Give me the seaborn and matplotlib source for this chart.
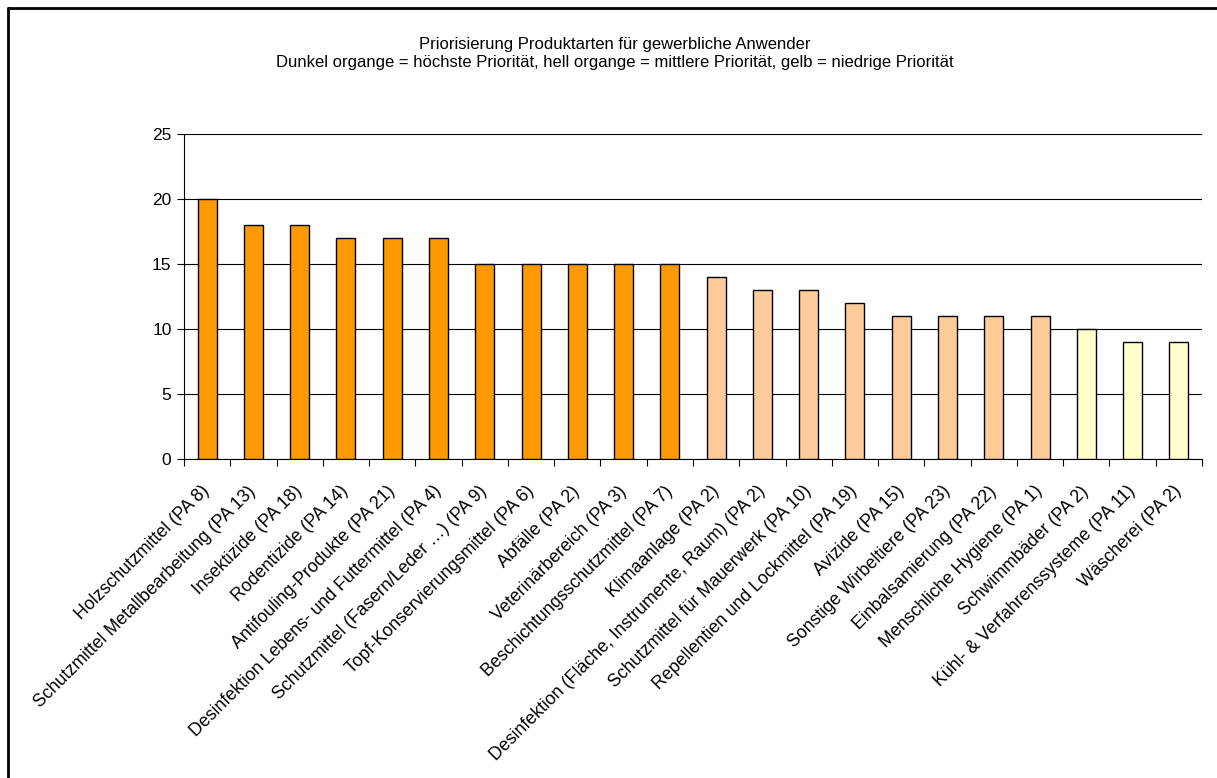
import matplotlib
matplotlib.use("Agg")
import matplotlib.pyplot as plt
import matplotlib.transforms as mtransforms
import seaborn as sns
import pandas as pd
from matplotlib.lines import Line2D

categories = [
    "Holzschutzmittel (PA 8)",
    "Schutzmittel Metallbearbeitung (PA 13)",
    "Insektizide (PA 18)",
    "Rodentizide (PA 14)",
    "Antifouling-Produkte (PA 21)",
    "Desinfektion Lebens- und Futtermittel (PA 4)",
    "Schutzmittel (Fasern/Leder …) (PA 9)",
    "Topf-Konservierungsmittel (PA 6)",
    "Abfälle (PA 2)",
    "Veterinärbereich (PA 3)",
    "Beschichtungsschutzmittel (PA 7)",
    "Klimaanlage (PA 2)",
    "Desinfektion (Fläche, Instrumente, Raum) (PA 2)",
    "Schutzmittel für Mauerwerk (PA 10)",
    "Repellentien und Lockmittel (PA 19)",
    "Avizide (PA 15)",
    "Sonstige Wirbeltiere (PA 23)",
    "Einbalsamierung (PA 22)",
    "Menschliche Hygiene (PA 1)",
    "Schwimmbäder (PA 2)",
    "Kühl- & Verfahrenssysteme (PA 11)",
    "Wäscherei (PA 2)",
]
values = [20, 18, 18, 17, 17, 17, 15, 15, 15, 15, 15, 14, 13, 13, 12, 11, 11, 11, 11, 10, 9, 9]
priority = ["hoch"] * 11 + ["mittel"] * 8 + ["niedrig"] * 3
priority_colors = {"hoch": "#FF9900", "mittel": "#FFCC99", "niedrig": "#FFFFCC"}

title_lines = [
    "Priorisierung Produktarten für gewerbliche Anwender",
    "Dunkel organge = höchste Priorität, hell organge = mittlere Priorität, gelb = niedrige Priorität",
]
y_ticks = [0, 5, 10, 15, 20, 25]

df = pd.DataFrame({"Produktart": categories, "Wert": values, "Priorität": priority})

sns.set_theme(style="white")
plt.rcParams["font.family"] = ["Liberation Sans", "DejaVu Sans"]
plt.rcParams["text.color"] = "black"
plt.rcParams["xtick.color"] = "black"
plt.rcParams["ytick.color"] = "black"
plt.rcParams["xtick.labelcolor"] = "black"
plt.rcParams["ytick.labelcolor"] = "black"

fig = plt.figure(figsize=(12.17, 7.78), dpi=100)
ax = fig.add_axes([184 / 1217, 1 - 459 / 778, (1202 - 184) / 1217, (459 - 134) / 778])

sns.barplot(data=df, x="Produktart", y="Wert", hue="Priorität", palette=priority_colors,
            saturation=1, dodge=False, width=0.41, edgecolor="black", linewidth=1.0,
            legend=False, ax=ax, zorder=3)

n = len(categories)
ax.set_xlim(-0.5, n - 0.5)
ax.set_ylim(0, 25)
ax.set_yticks(y_ticks)
ax.set_yticklabels([str(t) for t in y_ticks], fontsize=12.5, color="black")
ax.grid(axis="y", color="black", linewidth=0.8, zorder=0)
ax.grid(axis="x", visible=False)
ax.set_xlabel("")
ax.set_ylabel("")

for s in ["top", "right"]:
    ax.spines[s].set_visible(False)
for s in ["left", "bottom"]:
    ax.spines[s].set_color("black")
    ax.spines[s].set_linewidth(0.8)

# category labels at centres, tick marks at category boundaries
ax.set_xticks(range(n))
ax.set_xticklabels(categories, rotation=45, ha="right", rotation_mode="anchor", fontsize=12.8, color="black")
ax.tick_params(axis="x", length=0, pad=17)
shift = mtransforms.ScaledTranslation(-6 / 100, 0, fig.dpi_scale_trans)
for lbl in ax.get_xticklabels():
    lbl.set_transform(lbl.get_transform() + shift)
ax.set_xticks([i - 0.5 for i in range(n + 1)], minor=True)
ax.tick_params(axis="x", which="minor", length=5, width=0.8, color="black", direction="out", bottom=True)
ax.tick_params(axis="y", length=5, width=0.8, color="black", direction="out", left=True, pad=4)

fig.text(0.505, 1 - 44 / 778, title_lines[0], ha="center", va="center", fontsize=12, color="black")
fig.text(0.505, 1 - 63 / 778, title_lines[1], ha="center", va="center", fontsize=12, color="black")

# chart area frame (left and top edge)
fig.add_artist(Line2D([7.5 / 1217, 7.5 / 1217], [0, 1 - 7.5 / 778], transform=fig.transFigure, color="black", linewidth=2))
fig.add_artist(Line2D([7.5 / 1217, 1], [1 - 7.5 / 778, 1 - 7.5 / 778], transform=fig.transFigure, color="black", linewidth=2))

fig.savefig("out.png", dpi=100, facecolor="white")
